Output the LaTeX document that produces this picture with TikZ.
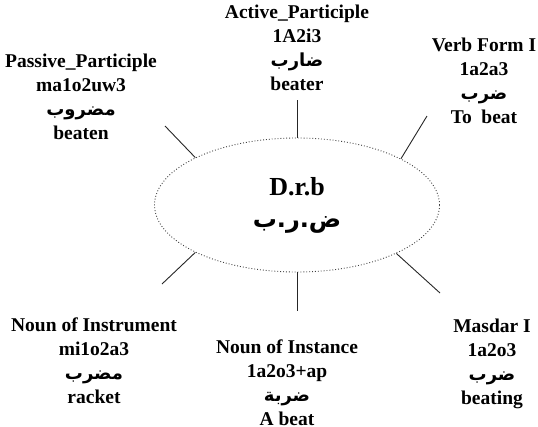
\documentclass[tikz,border=0pt]{standalone}
\usepackage{fontspec}
\setmainfont{Liberation Serif}
\newfontfamily\arabicfont[Script=Arabic]{DejaVu Sans}
\TeXXeTstate=1
\usetikzlibrary{shapes.geometric}
\newcommand{\arw}[1]{{\arabicfont\bfseries\fontsize{18}{24}\selectfont\beginR #1\endR}}
\tikzset{
  lbl/.style={align=center, inner sep=0pt, font=\fontsize{19.5}{24}\selectfont\bfseries},
  spoke/.style={line width=0.9pt, black!85},
  rootnode/.style={ellipse, draw=black!75, dotted, line width=0.9pt, minimum width=285pt, minimum height=134pt, inner sep=0pt, align=center, font=\fontsize{26}{32}\selectfont\bfseries}
}
\begin{document}
\begin{tikzpicture}[x=1pt,y=-1pt]
\useasboundingbox (0,0) rectangle (538,426);
\node[rootnode] (root) at (297,205) {\raisebox{0pt}[\height][\depth]{D.r.b}\\[0pt]{\arabicfont\bfseries\fontsize{24}{32}\selectfont\hbox{ب}\hbox{.}\hbox{ر}\hbox{.}\hbox{ض}}\rule[-6pt]{0pt}{0pt}};
\node[lbl] (act) at (297,48) {Active\_Participle\\1A2i3\\\arw{ضارب}\\beater};
\node[lbl] (verb) at (484,81) {Verb Form I\\1a2a3\\\arw{ضرب}\\To~~beat};
\node[lbl] (pas) at (81,97) {Passive\_Participle\\ma1o2uw3\\\arw{مضروب}\\beaten};
\node[lbl] (ins) at (94,361) {Noun of Instrument\\mi1o2a3\\\arw{مضرب}\\racket};
\node[lbl] (inst) at (287,383) {Noun of Instance\\1a2o3+ap\\\arw{ضربة}\\A beat};
\node[lbl] (mas) at (492,364) {Masdar I\\1a2o3\\\arw{ضرب}\\beating};
\coordinate (tT) at (297,100);
\coordinate (tUL) at (165,126);
\coordinate (tUR) at (427,116);
\coordinate (tLL) at (162,284);
\coordinate (tLR) at (440,293);
\coordinate (tB) at (297,311);
\draw[spoke] (root.north) -- (tT);
\draw[spoke] (root.155.3) -- (tUL);
\draw[spoke] (root.24.7) -- (tUR);
\draw[spoke] (root.205.4) -- (tLL);
\draw[spoke] (root.334.6) -- (tLR);
\draw[spoke] (root.south) -- (tB);
\end{tikzpicture}
\end{document}
